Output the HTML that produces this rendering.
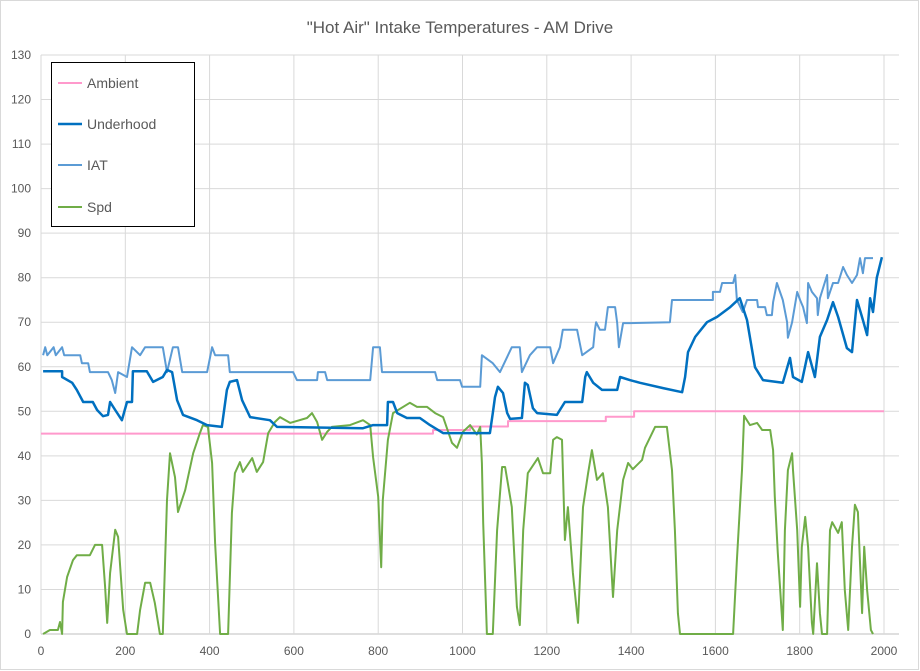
<!DOCTYPE html>
<html><head><meta charset="utf-8"><style>
body{margin:0;background:#fff;}
svg{display:block;font-family:"Liberation Sans",sans-serif;}
</style></head><body>
<svg id="chart" width="920" height="671" xmlns="http://www.w3.org/2000/svg">
<rect x="0.5" y="0.5" width="918" height="669" fill="#fff" stroke="#d9d9d9"/>
<text x="460" y="33" text-anchor="middle" font-size="17" fill="#595959">"Hot Air" Intake Temperatures - AM Drive</text>
<g id="grid"></g>
<g id="series"></g>
<g id="ticks"></g>
<g>
<rect x="51.5" y="62.5" width="143" height="164" fill="#fff" stroke="#000"/>
<line x1="58" y1="83" x2="82" y2="83" stroke="#ff99cc" stroke-width="2"/>
<text x="87" y="88" font-size="14" fill="#595959">Ambient</text>
<line x1="58" y1="124" x2="82" y2="124" stroke="#0070c0" stroke-width="2.5"/>
<text x="87" y="129" font-size="14" fill="#595959">Underhood</text>
<line x1="58" y1="165" x2="82" y2="165" stroke="#5b9bd5" stroke-width="2"/>
<text x="87" y="170" font-size="14" fill="#595959">IAT</text>
<line x1="58" y1="207" x2="82" y2="207" stroke="#70ad47" stroke-width="2"/>
<text x="87" y="212" font-size="14" fill="#595959">Spd</text>
</g>
</svg>
<script>
const xTicks=[0,200,400,600,800,1000,1200,1400,1600,1800,2000];
const yTicks=[0,10,20,30,40,50,60,70,80,90,100,110,120,130];
const ambientT=[0,930,930,1018,1018,1108,1108,1340,1340,1407,1407,2000];
const ambientV=[45,45,45.8,45.8,46.6,46.6,47.8,47.8,48.8,48.8,50,50];
const underT=[5,50,50,74,85,100,123,133,147,159,164,176,192,204,216,218,251,266,289,299,311,323,337,370,394,429,441,448,465,477,496,543,560,764,788,821,823,835,845,868,899,923,954,1065,1072,1077,1084,1096,1106,1113,1141,1148,1155,1167,1177,1224,1231,1243,1284,1291,1295,1310,1331,1367,1374,1397,1421,1476,1521,1528,1535,1552,1580,1604,1635,1658,1675,1694,1713,1760,1777,1784,1805,1820,1836,1848,1865,1879,1891,1912,1924,1936,1950,1960,1967,1974,1983,1995];
const underV=[59,59,57.7,56.4,54.8,52.1,52.1,50.3,48.9,49.2,52.1,50.3,48,52.1,52.1,59,59,56.6,57.7,59.3,58.8,52.5,49.2,48,46.9,46.5,54.8,56.6,57,52.5,48.7,48,46.5,46.2,46.9,46.9,52.1,52.1,49.6,48.5,48.5,46.9,45.1,45.1,49.6,53.2,55.5,54.1,49.6,48.3,48.5,56.4,55.9,50.7,49.6,49.2,50.3,52.1,52.1,57.7,58.8,56.4,54.8,54.8,57.7,57,56.4,55.2,54.3,57.7,63.3,66.7,70,71.2,73.4,75.4,70.5,59.9,57,56.4,62,57.7,56.6,63.3,57.7,66.7,70.5,74.5,71.2,64.2,63.3,75,70.5,67.1,75.4,72.3,80,84.6];
const iatT=[5,10,15,30,35,50,55,93,97,112,116,159,168,176,183,204,216,235,247,289,299,313,325,335,394,406,413,444,448,598,607,655,657,674,679,781,788,804,809,935,940,994,999,1042,1046,1072,1089,1117,1136,1141,1160,1177,1208,1215,1231,1238,1272,1284,1310,1314,1317,1326,1338,1345,1362,1367,1371,1381,1397,1492,1497,1594,1594,1611,1616,1642,1647,1651,1665,1675,1699,1701,1718,1722,1734,1737,1746,1760,1770,1772,1782,1794,1801,1808,1817,1820,1829,1841,1843,1848,1865,1867,1879,1891,1903,1912,1924,1936,1943,1950,1955,1974];
const iatV=[62.6,64.4,62.6,64.4,62.6,64.4,62.6,62.6,60.8,60.8,58.8,58.8,57,54.1,58.8,57.7,64.4,62.6,64.4,64.4,58.8,64.4,64.4,58.8,58.8,64.4,62.6,62.6,58.8,58.8,57,57,58.8,58.8,57,57,64.4,64.4,58.8,58.8,57,57,55.5,55.5,62.6,60.8,58.8,64.4,64.4,58.8,62.6,64.4,64.4,60.8,64.4,68.3,68.3,62.6,64.4,68.3,70,68.3,68.3,73.4,73.4,69.8,64.4,69.8,69.8,70,75,75,76.8,76.8,78.8,78.8,80.6,75,72.3,75,75,73.4,73.4,71.6,71.6,74.5,78.8,75,70,66.5,70,76.8,75,73.4,69.8,78.8,76.8,75.4,71.6,75.4,80.6,75.4,78.8,78.8,82.4,80.6,78.8,80.6,84.4,81,84.4,84.4];
const spdT=[5,21,40,45,50,52,62,76,85,116,128,145,152,157,164,176,183,195,204,228,235,247,259,270,282,289,299,306,318,325,342,361,377,384,396,406,413,425,444,453,460,472,479,501,512,527,539,555,567,591,631,643,655,667,679,690,733,764,781,788,800,807,811,823,835,875,892,916,935,954,975,987,1001,1018,1034,1042,1046,1049,1058,1072,1082,1094,1101,1117,1129,1136,1144,1155,1179,1191,1208,1215,1224,1236,1243,1250,1262,1274,1286,1298,1307,1319,1333,1345,1357,1367,1381,1393,1404,1426,1433,1457,1485,1497,1504,1511,1516,1642,1651,1663,1668,1682,1699,1711,1730,1737,1741,1748,1760,1765,1772,1782,1784,1794,1801,1805,1813,1820,1829,1832,1841,1848,1853,1865,1872,1877,1891,1900,1907,1915,1924,1931,1938,1948,1953,1960,1969,1974];
const spdV=[0,0.9,0.9,2.7,0,7.2,12.8,16.6,17.7,17.7,20,20,10.6,2.5,13.7,23.4,21.8,5.4,0,0,5.4,11.5,11.5,7,0,0,30.1,40.6,35.2,27.4,32.3,40.6,45.1,46.9,46.5,38.4,20.4,0,0,27.2,36.1,38.6,36.4,39.5,36.4,38.6,45.1,47.6,48.7,47.4,48.5,49.6,47.6,43.6,45.4,46.5,46.9,48,46.9,39.7,30.8,15,30.1,43.6,49.6,51.9,51,51,49.6,48.7,42.9,41.8,45.4,46.9,44.8,46.5,38.4,24.9,0,0,23.3,37.5,37.5,28.5,6.1,2,23.3,36.1,39.5,36.1,36.1,43.6,44.2,43.6,21.1,28.5,13.7,2.5,28.5,36.1,41.3,34.6,36.1,28.5,8.3,23.3,34.6,38.4,37,39.1,41.8,46.5,46.5,36.8,23.3,4.7,0,0,16.6,36.8,49,46.9,47.4,45.8,45.8,41.3,30.8,18.2,0.9,23.3,36.8,40.6,36.8,23.3,6.1,19.5,26.3,19.5,2.5,0,15.9,4.7,0,0,23.3,25.1,22.7,25.1,9.9,0.9,19.5,29,27.4,4.7,19.6,9.9,0.9,0];

const X0=41,X1=884,Y0=634,Y1=55,PR=899;
const sx=t=>X0+(t-0)/(2000-0)*(X1-X0);
const sy=v=>Y0-(v-0)/(130-0)*(Y0-Y1);
const NS="http://www.w3.org/2000/svg";
const grid=document.getElementById('grid'),ticks=document.getElementById('ticks'),ser=document.getElementById('series');
yTicks.forEach(v=>{
  const l=document.createElementNS(NS,'line');
  
  
  l.setAttribute('x1',X0);l.setAttribute('x2',PR);l.setAttribute('y1',sy(v));l.setAttribute('y2',sy(v));
  l.setAttribute('stroke',v===0?'#bfbfbf':'#d9d9d9');l.setAttribute('stroke-width','1');
  grid.appendChild(l);
  const t=document.createElementNS(NS,'text');
  
  
  t.setAttribute('x',31);t.setAttribute('y',sy(v)+4);t.setAttribute('text-anchor','end');
  t.setAttribute('font-size','12');t.setAttribute('fill','#595959');t.textContent=v;
  ticks.appendChild(t);
});
xTicks.forEach(v=>{
  const l=document.createElementNS(NS,'line');
  
  
  l.setAttribute('x1',sx(v));l.setAttribute('x2',sx(v));l.setAttribute('y1',Y1);l.setAttribute('y2',Y0);
  l.setAttribute('stroke','#d9d9d9');l.setAttribute('stroke-width','1');
  grid.appendChild(l);
  const t=document.createElementNS(NS,'text');
  
  
  t.setAttribute('x',sx(v));t.setAttribute('y',655);t.setAttribute('text-anchor','middle');
  t.setAttribute('font-size','12');t.setAttribute('fill','#595959');t.textContent=v;
  ticks.appendChild(t);
});
function draw(T,V,color,w,name){
  const p=document.createElementNS(NS,'polyline');
  
  
  p.setAttribute('points',T.map((t,i)=>sx(t).toFixed(1)+','+sy(V[i]).toFixed(1)).join(' '));
  p.setAttribute('fill','none');p.setAttribute('stroke',color);p.setAttribute('stroke-width',w);
  p.setAttribute('stroke-linejoin','round');
  ser.appendChild(p);
}
draw(ambientT,ambientV,'#ff99cc',2,'ambient-line');
draw(spdT,spdV,'#70ad47',2,'spd-line');
draw(iatT,iatV,'#5b9bd5',2,'iat-line');
draw(underT,underV,'#0070c0',2.5,'underhood-line');
</script>
</body></html>
